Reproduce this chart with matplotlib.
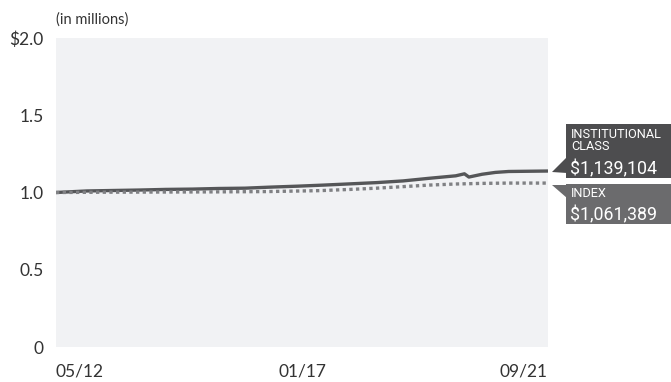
import numpy as np
import pandas as pd
import matplotlib
matplotlib.use("Agg")
import matplotlib.pyplot as plt
from matplotlib.patches import Polygon, Rectangle

# Growth of $1M (in millions)
inst_dates = ["2012-05-31", "2012-12-31", "2013-06-30", "2013-12-31", "2014-06-30",
              "2014-12-31", "2015-06-30", "2015-12-31", "2016-06-30", "2016-12-31",
              "2017-06-30", "2017-12-31", "2018-06-30", "2018-12-31", "2019-06-30",
              "2019-12-31", "2020-02-29", "2020-03-31", "2020-06-30", "2020-09-30",
              "2020-12-31", "2021-06-30", "2021-09-30"]
inst_vals = [1.000, 1.010, 1.013, 1.016, 1.020, 1.022, 1.026, 1.028, 1.035, 1.041,
             1.048, 1.056, 1.064, 1.075, 1.092, 1.108, 1.121, 1.100, 1.118, 1.130,
             1.136, 1.138, 1.139]

index_dates = ["2012-05-31", "2013-05-31", "2014-05-31", "2015-05-31", "2016-05-31",
               "2017-05-31", "2017-12-31", "2018-06-30", "2018-12-31", "2019-06-30",
               "2019-12-31", "2020-06-30", "2020-12-31", "2021-09-30"]
index_vals = [1.000, 1.002, 1.003, 1.004, 1.006, 1.012, 1.020, 1.028, 1.038, 1.048,
              1.055, 1.059, 1.061, 1.061]

x_ticks = ["2012-05-31", "2017-01-31", "2021-09-30"]
x_labels = ["05/12", "01/17", "09/21"]
y_ticks = [0, 0.5, 1.0, 1.5, 2.0]
y_labels = ["0", "0.5", "1.0", "1.5", "$2.0"]

callouts = [("INSTITUTIONAL\nCLASS", "$1,139,104"), ("INDEX", "$1,061,389")]

W, H = 671, 382
fig = plt.figure(figsize=(W / 100, H / 100), dpi=100)
tick_font = ["Lato", "DejaVu Sans"]
box_font = ["Roboto", "DejaVu Sans"]

ax = fig.add_axes([56 / W, 1 - 347 / H, (548 - 56) / W, (347 - 38) / H])
ax.set_facecolor("#f1f2f4")
for s in ax.spines.values():
    s.set_visible(False)

ax.plot(pd.to_datetime(inst_dates), inst_vals, color="#555658", lw=2.4, solid_capstyle="butt")
ax.plot(pd.to_datetime(index_dates), index_vals, color="#808184", lw=2.4, ls=(0, (1, 1)))

ax.set_xlim(pd.Timestamp("2012-05-31"), pd.Timestamp("2021-09-30"))
ax.set_ylim(0, 2.0)
ax.set_yticks(y_ticks)
ax.set_yticklabels(y_labels, fontsize=12.5, family=tick_font, color="#333333")
ax.set_xticks(pd.to_datetime(x_ticks))
ax.set_xticklabels(x_labels, fontsize=12.5, family=tick_font, color="#333333")
for lab, ha in zip(ax.get_xticklabels(), ["left", "center", "right"]):
    lab.set_ha(ha)
ax.tick_params(length=0)
ax.tick_params(axis="y", pad=9)
ax.tick_params(axis="x", pad=12)

fig.text(56 / W, 1 - 20 / H, "(in millions)", fontsize=10.5, family=tick_font,
         color="#333333", ha="left", va="center")

# callout boxes (pixel coordinates, top-left origin)
boxes = [
    dict(top=124, bottom=178, tip=(552, 172), edge=(157, 173), color="#4d4d4f",
         small_y=128, big_y=174),
    dict(top=184, bottom=224, tip=(552, 185), edge=(185, 198), color="#6b6b6d",
         small_y=187, big_y=220),
]
def fp(x, y):
    return (x / W, 1 - y / H)

for b, (small, big) in zip(boxes, callouts):
    x0 = 566
    fig.patches.append(Rectangle(fp(x0, b["bottom"]), (W - x0) / W, (b["bottom"] - b["top"]) / H,
                                 transform=fig.transFigure, color=b["color"], lw=0))
    fig.patches.append(Polygon([fp(*b["tip"]), fp(x0 + 1, b["edge"][0]), fp(x0 + 1, b["edge"][1])],
                               closed=True, transform=fig.transFigure, color=b["color"], lw=0))
    fig.text(*fp(x0 + 5, b["small_y"]), small, fontsize=9.2, family=box_font, color="white",
             ha="left", va="top", linespacing=0.85)
    fig.text(*fp(x0 + 4, b["big_y"]), big, fontsize=12.8, family=box_font, color="white",
             ha="left", va="baseline")

fig.savefig("out.png", dpi=100)
